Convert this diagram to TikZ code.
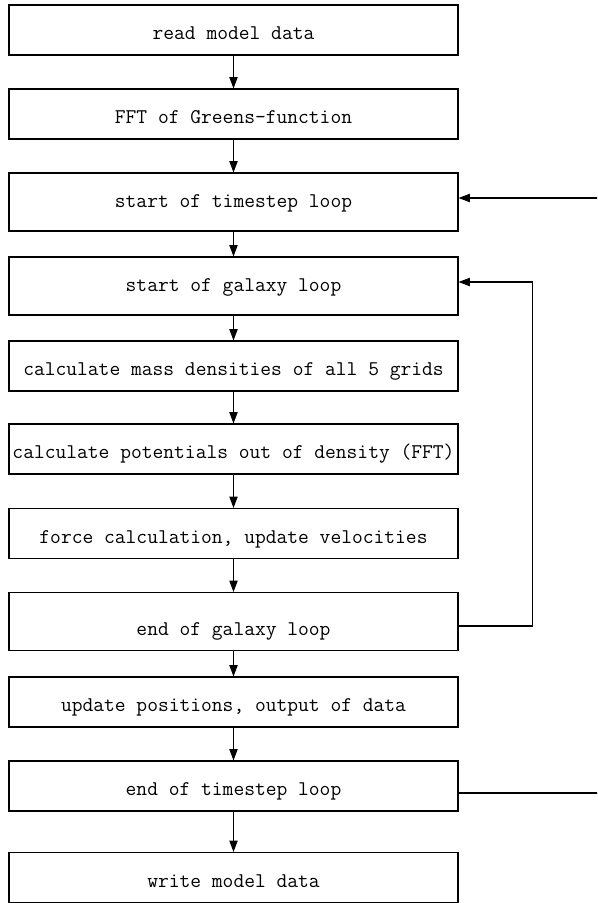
\documentclass[tikz,border=0pt]{standalone}
\usetikzlibrary{calc, arrows.meta}

\tikzset{
	box/.style = {draw, line width = 0.8pt, inner sep = 0pt,
		minimum width = 336.75pt, minimum height = 37.5pt,
		text height = 20pt, text depth = 5.4pt,
		font = \ttfamily\fontsize{15.7}{18}\selectfont},
	loopbox/.style = {box, minimum height = 43.5pt, text height = 14pt},
	endbox/.style = {loopbox, text height = 26pt, text depth = 4.7pt},
	arr/.style = {-{Triangle[length = 8.5pt, width = 6.2pt]}, line width = 0.8pt}
}

\begin{document}
\begin{tikzpicture}[x = 0.75pt, y = -0.75pt]
	\useasboundingbox (0, 0) rectangle (597, 903);
	\clip (0, 0) rectangle (597, 903);
	
	% boxes, positions in pixels
	\node[box]     (read)  at (233.5, 30)    {read model data};
	\node[box]     (green) at (233.5, 114)   {FFT of Greens-function};
	\node[loopbox] (tsbeg) at (233.5, 202)   {start of timestep loop};
	\node[loopbox] (gxbeg) at (233.5, 286)   {start of galaxy loop};
	\node[box]     (dens)  at (233.5, 366)   {calculate mass densities of all 5 grids};
	\node[box]     (pot)   at (233.5, 449)   {calculate potentials out of density (FFT)};
	\node[box]     (force) at (233.5, 533.5) {force calculation, update velocities};
	\node[endbox]  (gxend) at (233.5, 621.5) {end of galaxy loop};
	\node[box]     (upd)   at (233.5, 702)   {update positions, output of data};
	\node[box]     (tsend) at (233.5, 786)   {end of timestep loop};
	\node[box]     (write) at (233.5, 877.5) {write model data};
	
	% main flow
	\foreach \a/\b in {read/green, green/tsbeg, tsbeg/gxbeg, gxbeg/dens, dens/pot,
		pot/force, force/gxend, gxend/upd, upd/tsend, tsend/write}
		\draw[arr] (\a) -- (\b);
	
	% loops back
	\draw[arr] ($(gxend.east) + (0, 4.5)$) -- ++(74, 0) |- ($(gxbeg.east) + (0, -4)$);
	\draw[arr] ($(tsend.east) + (0, 7)$) -- ++(150, 0) |- ($(tsbeg.east) + (0, -4)$);
\end{tikzpicture}
\end{document}
